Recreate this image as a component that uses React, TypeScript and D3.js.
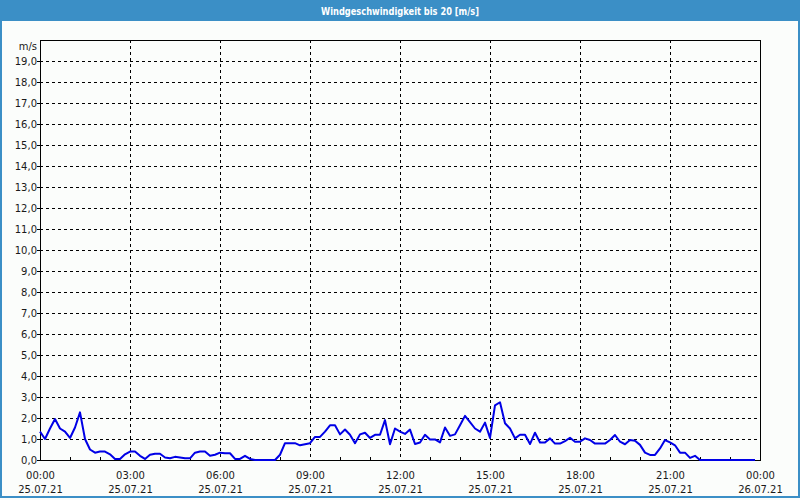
import React from "react";
import * as d3 from "d3";

const title = "Windgeschwindigkeit bis 20 [m/s]";
const unitLabel = "m/s";
const yTicks = d3.range(0, 20, 1);
const xTickHours = [0, 3, 6, 9, 12, 15, 18, 21, 24];
const xTimeLabels = ["00:00", "03:00", "06:00", "09:00", "12:00", "15:00", "18:00", "21:00", "00:00"];
const xDateLabels = ["25.07.21", "25.07.21", "25.07.21", "25.07.21", "25.07.21", "25.07.21", "25.07.21", "25.07.21", "26.07.21"];
// 10-minute samples starting 00:00
const windSpeed = [
  1.35, 1.0, 1.5, 1.95, 1.5, 1.35, 1.05, 1.55, 2.27, 1.0,
  0.5, 0.35, 0.4, 0.4, 0.27, 0.05, 0.05, 0.27, 0.4, 0.4,
  0.2, 0.05, 0.25, 0.3, 0.3, 0.12, 0.08, 0.15, 0.12, 0.08,
  0.08, 0.35, 0.4, 0.4, 0.2, 0.25, 0.35, 0.32, 0.32, 0.05,
  0.05, 0.2, 0.05, 0, 0, 0, 0, 0, 0.25, 0.8,
  0.8, 0.8, 0.7, 0.75, 0.8, 1.1, 1.1, 1.35, 1.65, 1.65,
  1.22, 1.45, 1.2, 0.8, 1.22, 1.3, 1.05, 1.2, 1.2, 1.9,
  0.75, 1.5, 1.35, 1.24, 1.45, 0.76, 0.83, 1.2, 0.98, 0.98,
  0.84, 1.55, 1.15, 1.22, 1.65, 2.1, 1.8, 1.5, 1.35, 1.78,
  1.05, 2.6, 2.75, 1.75, 1.5, 1.03, 1.2, 1.2, 0.76, 1.3,
  0.83, 0.83, 1.03, 0.78, 0.78, 0.9, 1.06, 0.87, 0.87, 1.03,
  0.95, 0.78, 0.78, 0.78, 0.95, 1.19, 0.87, 0.75, 0.95, 0.92,
  0.72, 0.35, 0.24, 0.24, 0.55, 0.95, 0.84, 0.7, 0.35, 0.35,
  0.1, 0.2, 0, 0, 0, 0, 0, 0, 0, 0,
  0, 0, 0, 0,
];

const W = 800;
const H = 500;
const left = 40, right = 760, top = 40, bottom = 460;
const font = "'DejaVu Sans', Verdana, sans-serif";
const textColor = "#1a1a1a";

export default function App() {
  const x = d3.scaleLinear().domain([0, 24]).range([left, right]);
  const y = d3.scaleLinear().domain([0, 20]).range([bottom, top]);
  const line = d3
    .line<number>()
    .x((_, i) => x(i / 6))
    .y((d) => y(d));
  const minorHours = d3.range(1, 24).filter((h) => h % 3 !== 0);

  return (
    <svg
      width={W}
      height={H}
      style={{ position: "absolute", left: 0, top: 0, display: "block" }}
    >
      <rect x={0} y={0} width={W} height={H} fill="#fbfdfb" />
      <rect x={0} y={0} width={W} height={21} fill="#3b8fc6" />
      <rect x={1} y={1} width={W - 2} height={H - 4} fill="none" stroke="#3b8fc6" strokeWidth={2} />
      <text
        x={W / 2}
        y={15}
        textAnchor="middle"
        fill="#ffffff"
        fontFamily={font}
        fontWeight="bold"
        fontSize={10.5}
        textLength={158}
        lengthAdjust="spacingAndGlyphs"
      >
        {title}
      </text>

      {/* horizontal grid */}
      {yTicks.filter((v) => v > 0).map((v) => (
        <line
          key={"hg" + v}
          x1={left}
          x2={right}
          y1={Math.round(y(v)) + 0.5}
          y2={Math.round(y(v)) + 0.5}
          stroke="#000"
          strokeWidth={1}
          strokeDasharray="3,3"
          shapeRendering="crispEdges"
        />
      ))}
      {/* vertical grid */}
      {xTickHours.filter((h) => h > 0 && h < 24).map((h) => (
        <line
          key={"vg" + h}
          x1={Math.round(x(h)) + 0.5}
          x2={Math.round(x(h)) + 0.5}
          y1={top}
          y2={bottom}
          stroke="#000"
          strokeWidth={1}
          strokeDasharray="3,3"
          shapeRendering="crispEdges"
        />
      ))}
      {/* minor ticks */}
      {minorHours.map((h) => (
        <line
          key={"mt" + h}
          x1={Math.round(x(h)) + 0.5}
          x2={Math.round(x(h)) + 0.5}
          y1={bottom - 3}
          y2={bottom}
          stroke="#000"
          shapeRendering="crispEdges"
        />
      ))}
      {/* y ticks */}
      {yTicks.map((v) => (
        <line
          key={"yt" + v}
          x1={left - 3}
          x2={left}
          y1={Math.round(y(v)) + 0.5}
          y2={Math.round(y(v)) + 0.5}
          stroke="#000"
          shapeRendering="crispEdges"
        />
      ))}
      {/* frame */}
      <rect
        x={left + 0.5}
        y={top + 0.5}
        width={right - left}
        height={bottom - top}
        fill="none"
        stroke="#000"
        strokeWidth={1}
        shapeRendering="crispEdges"
      />

      {/* y labels */}
      <text x={37} y={50} textAnchor="end" fontFamily={font} fontSize={10} fill={textColor}>
        {unitLabel}
      </text>
      {yTicks.map((v) => (
        <text
          key={"yl" + v}
          x={37}
          y={y(v) + 4}
          textAnchor="end"
          fontFamily={font}
          fontSize={10}
          fill={textColor}
        >
          {v.toFixed(1).replace(".", ",")}
        </text>
      ))}
      {/* x labels */}
      {xTickHours.map((h, i) => (
        <g key={"xl" + h}>
          <text x={x(h) + 0.5} y={479} textAnchor="middle" fontFamily={font} fontSize={10} fill={textColor}>
            {xTimeLabels[i]}
          </text>
          <text x={x(h) + 0.5} y={493} textAnchor="middle" fontFamily={font} fontSize={10} fill={textColor}>
            {xDateLabels[i]}
          </text>
        </g>
      ))}

      <path d={line(windSpeed) || ""} fill="none" stroke="#0000e6" strokeWidth={2} strokeLinejoin="round" />
    </svg>
  );
}
